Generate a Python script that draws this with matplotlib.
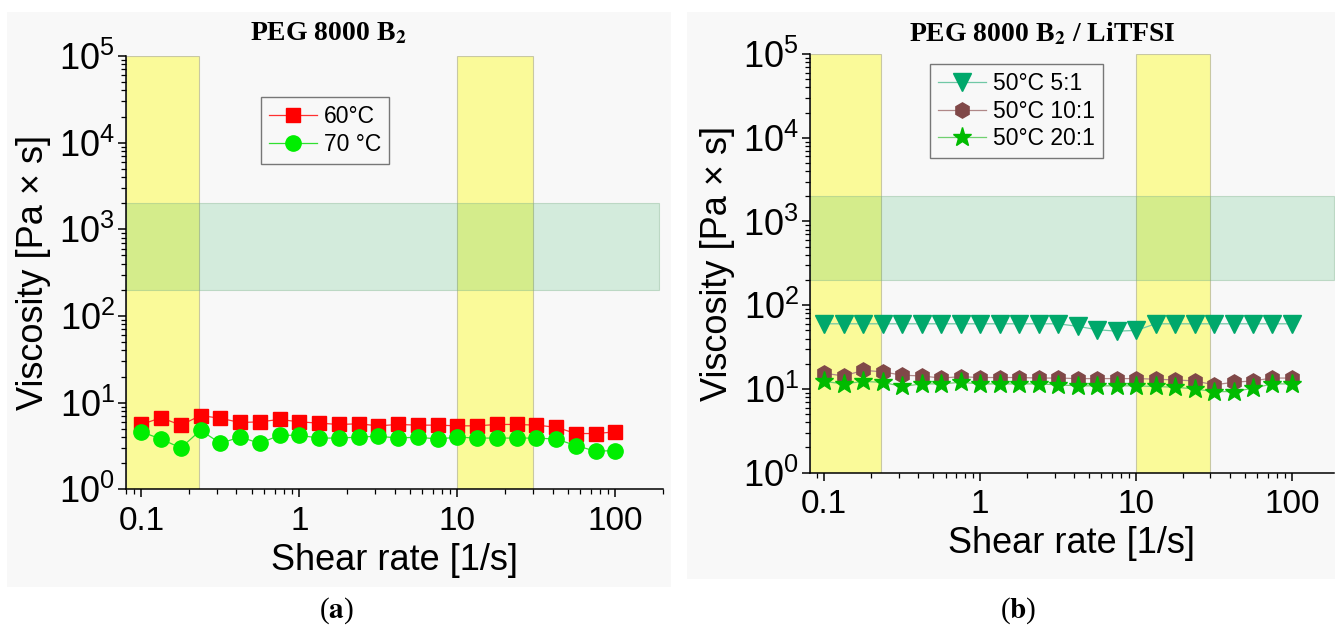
import numpy as np
import matplotlib
matplotlib.use("Agg")
import matplotlib.pyplot as plt
from matplotlib import ticker
from matplotlib.patches import Rectangle

plt.rcParams["font.family"] = ["Liberation Sans", "DejaVu Sans"]
plt.rcParams["mathtext.fontset"] = "custom"
plt.rcParams["mathtext.rm"] = "Liberation Sans"

# shear rate [1/s], 8 points per decade
shear = [0.1, 0.1334, 0.1778, 0.2371, 0.3162, 0.4217, 0.5623, 0.7499, 1.0,
         1.334, 1.778, 2.371, 3.162, 4.217, 5.623, 7.499, 10.0,
         13.34, 17.78, 23.71, 31.62, 42.17, 56.23, 74.99, 100.0]

# panel (a) PEG 8000 B2
visc_60 = [5.6, 6.7, 5.5, 7.1, 6.6, 5.9, 6.0, 6.4, 6.0, 5.8, 5.6, 5.7, 5.4,
           5.6, 5.5, 5.5, 5.4, 5.4, 5.6, 5.6, 5.5, 5.2, 4.4, 4.4, 4.6]
visc_70 = [4.6, 3.8, 3.0, 4.8, 3.4, 4.0, 3.4, 4.2, 4.2, 3.9, 3.9, 4.0, 4.1,
           3.9, 4.0, 3.8, 4.0, 3.9, 3.9, 3.9, 3.9, 3.8, 3.2, 2.75, 2.8]

# panel (b) PEG 8000 B2 / LiTFSI
visc_5_1 = [60, 60, 60, 60, 60, 60, 60, 60, 60, 60, 60, 60, 60,
            56, 51, 49, 50, 60, 60, 60, 60, 60, 60, 60, 60]
visc_10_1 = [15.4, 14.3, 16.7, 16.0, 14.6, 14.3, 13.5, 14.0, 13.7, 13.7, 13.7,
             13.5, 13.5, 13.3, 13.3, 13.3, 13.3, 13.1, 12.8, 12.5, 11.2, 12.0,
             12.5, 13.5, 13.5]
visc_20_1 = [12.3, 11.5, 12.3, 12.0, 10.7, 11.5, 11.5, 12.0, 11.5, 11.5, 11.5,
             11.5, 11.2, 10.9, 10.9, 10.9, 10.9, 10.7, 10.5, 10.0, 9.3, 9.3,
             10.2, 11.5, 11.5]

yellow_bands = [(0.05, 0.232), (10.0, 30.0)]
green_band = (200, 2000)

BG = "#f8f8f8"
W, H = 1335, 631
fig = plt.figure(figsize=(W / 100, H / 100), dpi=100, facecolor="white")

# light grey panel backgrounds
for x0, y0, x1, y1 in [(7, 12, 671, 587), (686.5, 12, 1335, 579)]:
    fig.patches.append(Rectangle((x0 / W, 1 - y1 / H), (x1 - x0) / W, (y1 - y0) / H,
                                 transform=fig.transFigure, facecolor=BG,
                                 edgecolor="none", zorder=-5))

ax_a = fig.add_axes([126 / W, 1 - 489.3 / H, (663 - 126) / W, (489.3 - 56) / H])
ax_b = fig.add_axes([810 / W, 1 - 472.7 / H, (1334 - 810) / W, (472.7 - 54) / H])


def style(ax, xlim, green_right):
    ax.set_facecolor(BG)
    ax.set_xscale("log")
    ax.set_yscale("log")
    ax.set_xlim(*xlim)
    ax.set_ylim(1, 1e5)
    for x0, x1 in yellow_bands:
        ax.axvspan(max(x0, xlim[0]), x1, facecolor=(1, 1, 0, 0.38),
                   edgecolor=(0.6, 0.6, 0.5, 0.5), lw=0.8, zorder=1)
    ax.fill_between([xlim[0], green_right], green_band[0], green_band[1],
                    facecolor=(0.0, 0.63, 0.24, 0.15), edgecolor=(0.5, 0.7, 0.55, 0.4),
                    lw=0.8, zorder=1)
    for s in ["top", "right"]:
        ax.spines[s].set_visible(False)
    for s in ["left", "bottom"]:
        ax.spines[s].set_linewidth(1.1)
        ax.spines[s].set_zorder(5)
    ax.xaxis.set_major_locator(ticker.FixedLocator([0.1, 1, 10, 100]))
    ax.xaxis.set_major_formatter(ticker.FuncFormatter(lambda v, _: f"{v:g}"))
    ax.xaxis.set_minor_locator(ticker.LogLocator(base=10, subs=np.arange(2, 10)))
    ax.xaxis.set_minor_formatter(ticker.NullFormatter())
    ax.yaxis.set_major_locator(ticker.LogLocator(base=10, numticks=10))
    ax.yaxis.set_minor_locator(ticker.LogLocator(base=10, subs=np.arange(2, 10), numticks=10))
    ax.yaxis.set_minor_formatter(ticker.NullFormatter())
    ax.tick_params(which="major", direction="out", length=6, width=1.1, labelsize=24, pad=6)
    ax.tick_params(which="minor", direction="out", length=3.5, width=0.9)
    ax.tick_params(axis="y", which="major", labelsize=26, pad=2)
    ax.set_xlabel("Shear rate [1/s]", fontsize=26, labelpad=4)
    ax.set_ylabel("Viscosity [Pa × s]", fontsize=26, labelpad=6)


style(ax_a, (0.080, 200), 190)
style(ax_b, (0.081, 186), 186)

mk_kw = dict(lw=0.9, zorder=3)
ax_a.plot(shear, visc_60, color="#ff3030", marker="s", ms=9.5, mfc="#ff0000",
          mec="#ff0000", label="60°C", **mk_kw)
ax_a.plot(shear, visc_70, color="#30e030", marker="o", ms=11, mfc="#00ee00",
          mec="#00ee00", label="70 °C", **mk_kw)

ax_b.plot(shear, visc_5_1, color="#70c8a6", marker="v", ms=12.5, mfc="#00a86b",
          mec="#00a86b", label="50°C 5:1", **mk_kw)
ax_b.plot(shear, visc_10_1, color="#b08888", marker="h", ms=11, mfc="#804848",
          mec="#804848", label="50°C 10:1", **mk_kw)
ax_b.plot(shear, visc_20_1, color="#70d070", marker="*", ms=14, mfc="#00bb00",
          mec="#00bb00", label="50°C 20:1", **mk_kw)

leg_kw = dict(loc="upper left", fontsize=16.5, fancybox=False, framealpha=1,
              edgecolor="#777777", facecolor=BG, borderaxespad=0,
              handlelength=2.1, handletextpad=0.3, labelspacing=0.2,
              borderpad=0.35, bbox_transform=fig.transFigure)
la = ax_a.legend(bbox_to_anchor=(261 / W, 1 - 97 / H), **leg_kw)
lb = ax_b.legend(bbox_to_anchor=(930 / W, 1 - 64 / H), **leg_kw)
for lg in (la, lb):
    lg.get_frame().set_linewidth(1.0)

title_kw = dict(fontfamily="Liberation Serif", fontweight="bold", fontsize=20,
                math_fontfamily="stix", ha="center", va="center")
fig.text(328 / W, 1 - 34 / H, r"PEG 8000 B$_\mathbf{2}$", **title_kw)
fig.text(1042 / W, 1 - 34 / H, r"PEG 8000 B$_\mathbf{2}$ / LiTFSI", **title_kw)

lab_kw = dict(fontfamily="Liberation Serif", fontsize=21, math_fontfamily="stix",
              ha="center", va="center")
fig.text(336 / W, 1 - 611 / H, r"($\mathbf{a}$)", **lab_kw)
fig.text(1018 / W, 1 - 611 / H, r"($\mathbf{b}$)", **lab_kw)

fig.savefig("out.png", dpi=100, facecolor="white")
